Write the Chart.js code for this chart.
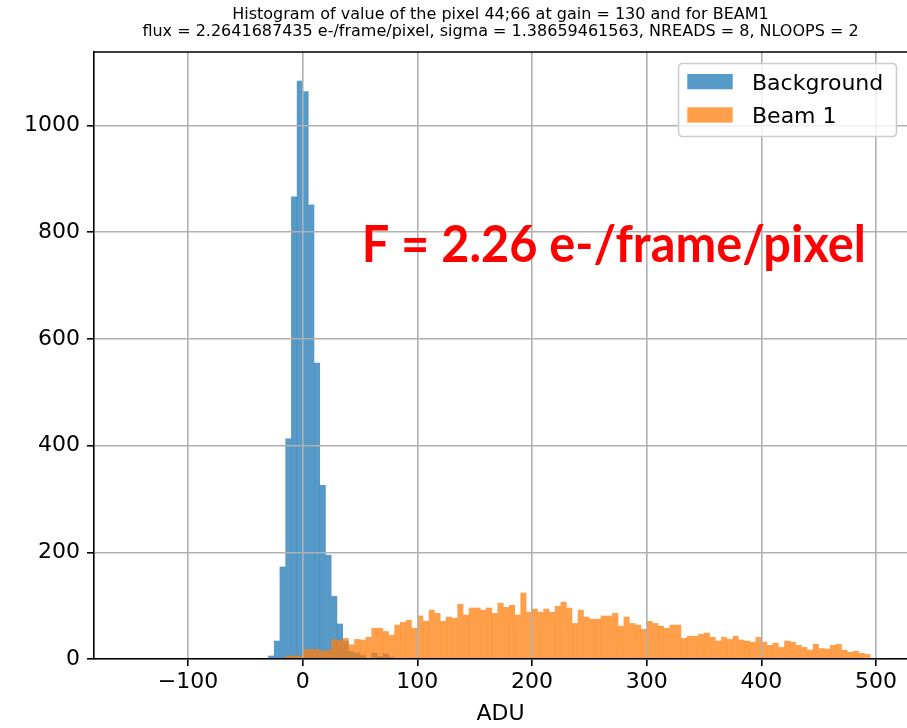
<!DOCTYPE html>
<html>
<head>
<meta charset="utf-8">
<script src="https://cdn.jsdelivr.net/npm/chart.js@4.4.1/dist/chart.umd.min.js"></script>
<style>
  html, body { margin: 0; padding: 0; background: #fff; overflow: hidden; }
</style>
</head>
<body>
<canvas id="histo" width="907" height="728"></canvas>
<script>
// histogram bins: 5 ADU wide, first edge at -30
const binStart = -30;
const binWidth = 5;

// counts per bin, starting at binStart
const backgroundCounts = [
  6, 34, 173, 413, 867, 1084, 1064, 852, 555, 326,
  195, 118, 66, 34, 14, 12, 7, 1, 12, 5,
  10, 4, 1, 0, 2, 0, 0, 0, 0, 2
];
const beamCounts = [
  0, 0, 1, 5, 6, 6, 18, 18, 18, 15,
  17, 37, 35, 39, 27, 37, 36, 41, 58, 58,
  52, 45, 64, 69, 73, 58, 81, 71, 92, 86,
  71, 79, 77, 103, 83, 96, 96, 92, 96, 86,
  105, 97, 101, 83, 124, 88, 94, 88, 94, 88,
  99, 107, 96, 67, 92, 79, 75, 75, 81, 81,
  86, 62, 79, 67, 64, 56, 71, 67, 62, 58,
  64, 64, 39, 43, 43, 47, 49, 41, 34, 41,
  37, 43, 36, 34, 32, 41, 32, 26, 30, 22,
  34, 32, 26, 22, 17, 28, 20, 19, 26, 28,
  17, 13, 15, 11, 9
];

const xTicks = [-100, 0, 100, 200, 300, 400, 500];
const yTicks = [0, 200, 400, 600, 800, 1000];

const titleLines = [
  'Histogram of value of the pixel 44;66 at gain = 130 and for BEAM1',
  'flux = 2.2641687435 e-/frame/pixel, sigma = 1.38659461563, NREADS = 8, NLOOPS = 2'
];
const fluxShown = 2.26;

function toBars(counts) {
  return counts.map((c, i) => ({ x: binStart + binWidth * i + binWidth / 2, y: c }));
}

function fmtTick(v) {
  return v < 0 ? '\u2212' + Math.abs(v) : String(v);
}

const tickFont = { family: 'DejaVu Sans', size: 22 };

// top spine, legend box and the big flux label
const overlay = {
  id: 'overlay',
  afterDraw(chart) {
    const c = chart.ctx;
    const a = chart.chartArea;
    c.save();
    c.strokeStyle = '#000';
    c.lineWidth = 1.6;
    c.beginPath();
    c.moveTo(a.left, a.top);
    c.lineTo(a.right, a.top);
    c.stroke();

    // legend
    const bx = 678.5, by = 63.5, bw = 218, bh = 73;
    c.fillStyle = 'rgba(255,255,255,0.8)';
    c.strokeStyle = '#cccccc';
    c.lineWidth = 1.6;
    c.beginPath();
    c.roundRect(bx, by, bw, bh, 4);
    c.fill();
    c.stroke();
    const entries = [chart.data.datasets[1], chart.data.datasets[0]];
    c.font = '22px "DejaVu Sans"';
    c.textBaseline = 'alphabetic';
    entries.forEach((ds, i) => {
      const y = 74 + i * 33.3;
      c.fillStyle = ds.backgroundColor;
      c.fillRect(687.3, y, 45.4, 15.3);
      c.fillStyle = '#000';
      c.fillText(ds.label, 752, y + 15.5);
    });

    // flux label, anchored in data coordinates
    const txt = 'F = ' + fluxShown.toFixed(2) + ' e-/frame/pixel';
    const x0 = chart.scales.x.getPixelForValue(51.5);
    const y0 = chart.scales.y.getPixelForValue(745);
    c.font = 'bold 51px Lato';
    const w = c.measureText(txt).width;
    c.translate(x0, y0);
    c.scale(504 / w, 1);
    c.fillStyle = '#ff0000';
    c.fillText(txt, 0, 0);
    c.restore();
  }
};

new Chart(document.getElementById('histo'), {
  type: 'bar',
  data: {
    datasets: [
      {
        label: 'Beam 1',
        data: toBars(beamCounts),
        backgroundColor: 'rgba(255,127,14,0.75)',
        borderWidth: 0,
        inflateAmount: 0.15,
        order: 1
      },
      {
        label: 'Background',
        data: toBars(backgroundCounts),
        backgroundColor: 'rgba(31,119,180,0.75)',
        borderWidth: 0,
        inflateAmount: 0.15,
        order: 2
      }
    ]
  },
  options: {
    responsive: false,
    animation: false,
    grouped: false,
    barPercentage: 1,
    categoryPercentage: 1,
    layout: { padding: 0 },
    plugins: {
      legend: { display: false },
      tooltip: { enabled: false },
      title: {
        display: true,
        text: titleLines,
        fullSize: false,
        color: '#000',
        font: { family: 'DejaVu Sans', size: 16, weight: 'normal', lineHeight: 1.0625 },
        padding: { top: 6, bottom: 12 }
      }
    },
    scales: {
      x: {
        type: 'linear',
        min: -182,
        max: 527,
        offset: false,
        afterBuildTicks: s => { s.ticks = xTicks.map(v => ({ value: v })); },
        afterFit: s => { s.height = 69; },
        ticks: { font: tickFont, color: '#000', padding: 3, maxRotation: 0, autoSkip: false, callback: fmtTick, z: 2 },
        grid: { offset: false, color: '#b0b0b0', lineWidth: 1.6, tickColor: '#000', tickLength: 7, tickWidth: 1.6, z: 1 },
        border: { color: '#000', width: 1.6, z: 2 },
        title: { display: true, text: 'ADU', color: '#000', font: tickFont, padding: { top: 0, bottom: 1 } }
      },
      y: {
        min: 0,
        max: 1138,
        afterBuildTicks: s => { s.ticks = yTicks.map(v => ({ value: v })); },
        afterFit: s => { s.width = 94; },
        ticks: { font: tickFont, color: '#000', padding: 7, callback: fmtTick, z: 2 },
        grid: { color: '#b0b0b0', lineWidth: 1.6, tickColor: '#000', tickLength: 7, tickWidth: 1.6, z: 1 },
        border: { color: '#000', width: 1.6, z: 2 }
      }
    }
  },
  plugins: [overlay]
});
</script>
</body>
</html>
